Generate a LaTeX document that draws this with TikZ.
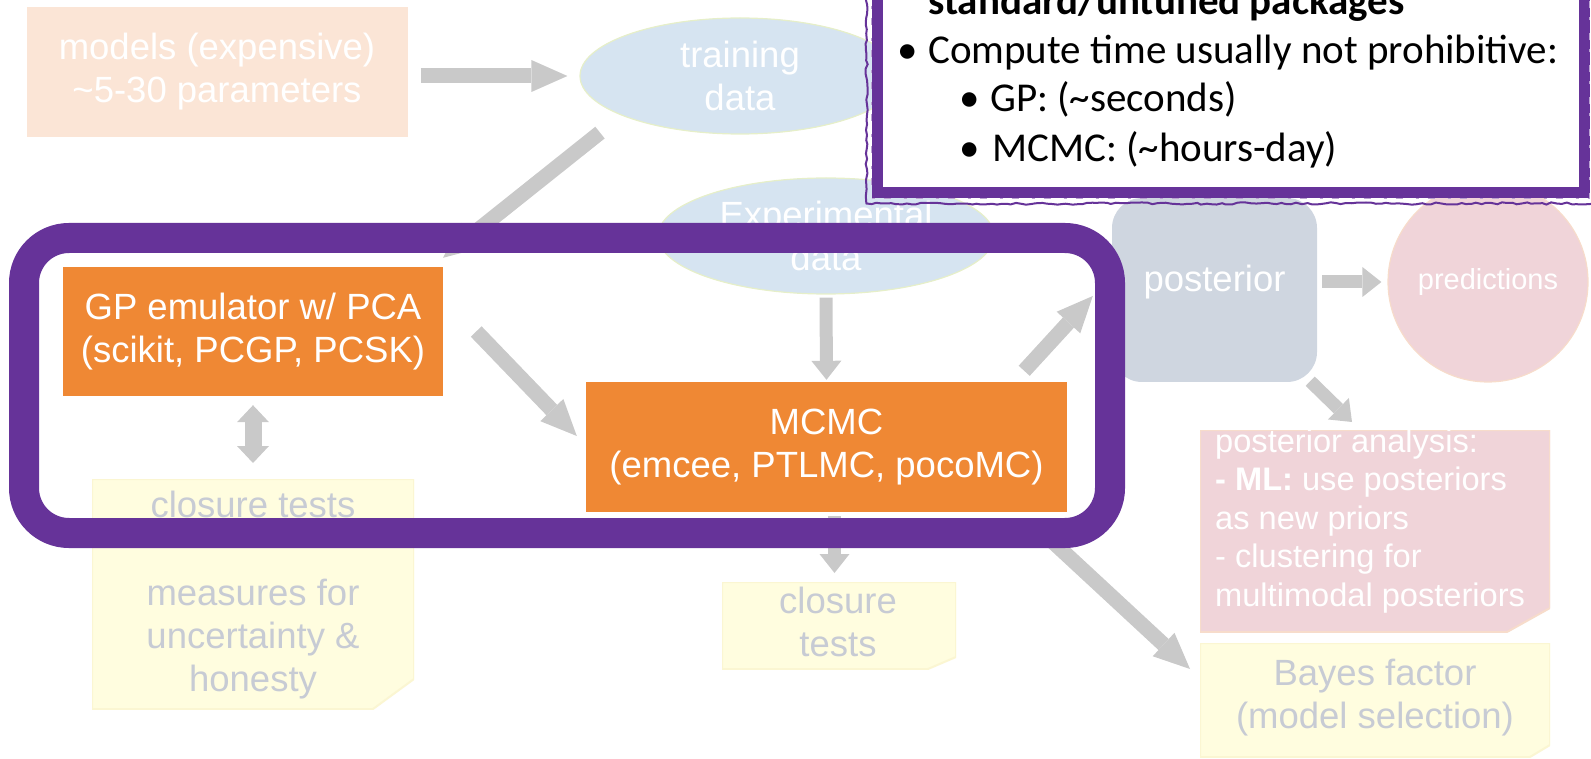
\documentclass[tikz,border=0pt]{standalone}
\usepackage{fontspec}
\setmainfont{Liberation Sans}
\newfontfamily\calib{Carlito}
\usetikzlibrary{arrows.meta,shapes.geometric,calc,decorations.pathmorphing}

\definecolor{peach}{HTML}{FBE5D6}
\definecolor{skyb}{HTML}{D6E4F1}
\definecolor{ellline}{HTML}{E6EFC9}
\definecolor{orng}{HTML}{EF8834}
\definecolor{postc}{HTML}{CFD6E0}
\definecolor{pinkc}{HTML}{F0D4D9}
\definecolor{pinkline}{HTML}{F7DCCB}
\definecolor{yelc}{HTML}{FFFDDF}
\definecolor{yelline}{HTML}{FBF6D2}
\definecolor{arrg}{HTML}{C9C9C9}
\definecolor{purp}{HTML}{663399}
\definecolor{notetxt}{HTML}{C7CBD4}

\tikzset{
  lbl/.style={font=\fontsize{36.5}{43}\selectfont, align=center, inner sep=0pt},
  wtxt/.style={lbl, text=white},
  gtxt/.style={lbl, text=notetxt},
  ctext/.style={font=\calib\fontsize{41}{49}\selectfont, inner sep=0pt, text=black},
  fnote/.style n args={4}{rectangle, inner sep=0pt, outer sep=0pt, fill=white,
    path picture={\filldraw[fill=#1, draw=#2, line width=2pt] (path picture bounding box.north west)
      -- (path picture bounding box.north east)
      -- ($(path picture bounding box.south east)+(0,-#4)$)
      -- ($(path picture bounding box.south east)+(-#3,0)$)
      -- (path picture bounding box.south west) -- cycle;}},
  blk/.style={draw=arrg, line width=15pt,
    -{Triangle[width=32pt,length=36pt,line width=0pt]}},
  blks/.style={draw=arrg, line width=13pt,
    -{Triangle[width=30pt,length=19pt,line width=0pt]}},
  dbl/.style={draw=arrg, line width=17pt,
    {Triangle[width=32pt,length=17pt,line width=0pt]}-{Triangle[width=32pt,length=17pt,line width=0pt]}},
  orbox/.style={wtxt, rectangle, fill=orng},
}

\begin{document}
\begin{tikzpicture}[x=1pt,y=-1pt]
\clip (0,0) rectangle (1591,759);

% pale background stages
\node[wtxt, rectangle, fill=peach, minimum width=381pt, minimum height=130pt] (models) at (217,72)
  {models (expensive)\\\textasciitilde 5-30 parameters};
\node[wtxt, ellipse, fill=skyb, draw=ellline, line width=1.2pt,
  minimum width=320pt, minimum height=116pt] (train) at (740,76) {training\\data};
\node[wtxt, ellipse, fill=skyb, draw=ellline, line width=1.2pt,
  minimum width=336pt, minimum height=116pt] (exp) at (826,236) {Experimental\\data};
\node[rectangle, rounded corners=30pt, fill=postc, minimum width=205pt, minimum height=184pt,
  inner sep=0pt, text=white, font=\fontsize{36.5}{43}\selectfont, text depth=23pt] (post) at (1214.5,290) {posterior};
\node[circle, fill=pinkc, draw=pinkline, line width=1.2pt, minimum size=200pt, inner sep=0pt,
  text=white, font=\fontsize{29}{34}\selectfont] (pred) at (1488,282) {predictions};

% sticky notes
\node[fnote={yelc}{yelline}{41}{30}, minimum width=322pt, minimum height=230pt] (cleft) at (253,594) {};
\node[gtxt] (cleftt) at (253,595) {closure tests\\[44.5pt]measures for\\uncertainty \&\\honesty};
\node[fnote={yelc}{yelline}{28}{12}, minimum width=234pt, minimum height=87pt] (cmid) at (839,625.5) {};
\node[gtxt] (cmidt) at (838,622) {closure\\tests};
\node[fnote={pinkc}{pinkline}{43}{24}, minimum width=350pt, minimum height=202pt] (ana) at (1375,531) {};
\node[text=white, align=left, inner sep=0pt, font=\fontsize{32.6}{38.5}\selectfont, anchor=west] (anat) at (1215,521)
  {posterior analysis:\\\textbf{- ML:} use posteriors\\as new priors\\- clustering for\\multimodal posteriors};
\node[fnote={yelc}{yelline}{20}{12}, minimum width=350pt, minimum height=114pt] (bayes) at (1375,700) {};
\node[gtxt] (bayest) at (1375,697.5) {Bayes factor\\(model selection)};

% highlighted tools
\node[orbox, minimum width=380pt, minimum height=129pt] (gp) at (253,331.5)
  {GP emulator w/ PCA\\(scikit, PCGP, PCSK)};
\node[orbox, minimum width=481pt, minimum height=130pt] (mcmc) at (826.5,447)
  {MCMC\\(emcee, PTLMC, pocoMC)};

% flow arrows
\draw[blk, shorten <=13pt, shorten >=12pt] (models.east |- train.center) -- (train.west);
\draw[blk] ($(train.south)+(-140,-2)$) -- ($(gp.north)+(190,-9)$);
\draw[blk] ($(gp.east)+(33,0)$) -- ($(mcmc.west)+(-9,-11)$);
\draw[blks, shorten <=3pt, shorten >=2pt] (exp.south) -- (mcmc.north);
\draw[dbl, shorten <=9pt, shorten >=16pt] (gp.south) -- (cleft.north);
\draw[blks, shorten <=4pt, shorten >=9pt] ([xshift=8pt]mcmc.south) -- ([xshift=8pt]mcmc.south |- cmid.north);
\draw[blk] ($(mcmc.north east)+(-43,-11)$) -- ($(post.west)+(-19,6)$);
\draw[blk] ($(mcmc.south east)+(-27,18)$) -- ($(bayes.north west)+(-10,26)$);
\draw[blks, shorten <=5pt, shorten >=6pt] (post.east |- pred.center) -- (pred.west);
\draw[blks] ($(post.south east)+(-7,-1)$) -- ($(ana.north west)+(152,-8)$);

% frame around emulator and sampler
\node[rectangle, draw=purp, line width=30pt, rounded corners=45pt, inner sep=0pt,
  minimum width=1086pt, minimum height=295pt] (frame) at (567,385.5) {};

% callout box
\node[rectangle, draw=purp, fill=white, line width=11pt, inner sep=0pt,
  minimum width=707pt, minimum height=233pt] (callout) at (1230.5,76.5) {};
\draw[purp, line width=2pt, decorate, decoration={random steps, segment length=5pt, amplitude=1.2pt}]
  ($(callout.north west)+(-5,0)$) -- ($(callout.south west)+(-5,5)$)
  -- ($(callout.south east)+(5,5)$) -- ($(callout.north east)+(5,0)$);
\draw[white!55!purp, line width=1.2pt, dash pattern=on 7pt off 13pt on 3pt off 9pt]
  (callout.north west) -- (callout.south west) -- (callout.south east) -- (callout.north east);

\node[ctext, anchor=base west] (c0) at (928,15) {\bfseries standard/untuned packages};
\node[ctext, anchor=base] (b1) at (908,64) {•};
\node[ctext, anchor=base west] (c1) at (928,64) {Compute time usually not prohibitive:};
\node[ctext, anchor=base] (b2) at (970,112) {•};
\node[ctext, anchor=base west] (c2) at (990,112) {GP: (\textasciitilde seconds)};
\node[ctext, anchor=base] (b3) at (970,162) {•};
\node[ctext, anchor=base west] (c3) at (992,162) {MCMC: (\textasciitilde hours-day)};
\end{tikzpicture}
\end{document}
